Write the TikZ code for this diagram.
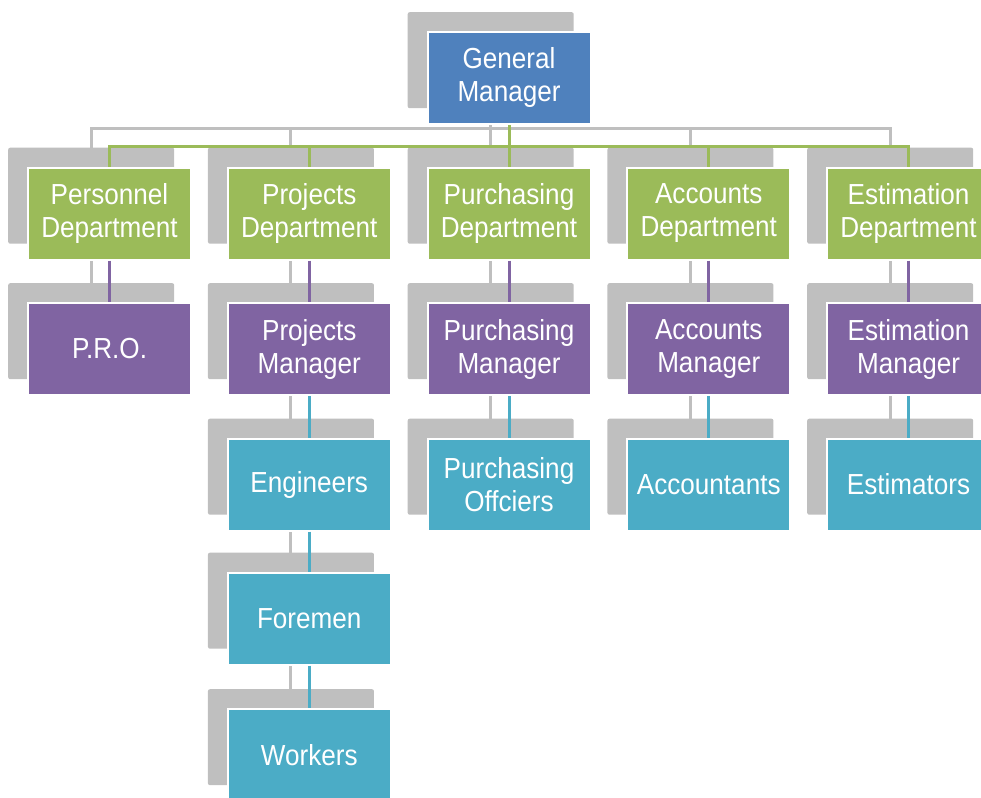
\documentclass[tikz,border=0pt]{standalone}
\usepackage{fontspec}
\setmainfont{Liberation Sans}[FakeStretch=0.9]
\definecolor{gmblue}{HTML}{4F81BD}
\definecolor{dgreen}{HTML}{9BBB59}
\definecolor{mpurple}{HTML}{8064A2}
\definecolor{steal}{HTML}{4BACC6}
\definecolor{sgray}{HTML}{BFBFBF}
\tikzset{
  sbox/.style={fill=sgray, rounded corners=2pt, minimum width=166pt, minimum height=96pt, anchor=north west, inner sep=0pt},
  cbox/.style={draw=white, line width=2pt, minimum width=163pt, minimum height=92pt, anchor=north west, text=white, align=center, font=\fontsize{29}{33}\selectfont, inner sep=0pt},
  gline/.style={draw=sgray, line width=3pt},
  cline/.style={line width=3pt},
}
\begin{document}
\begin{tikzpicture}[x=1pt,y=-1pt]
\useasboundingbox (0,0) rectangle (981,797);
% gray shadow boxes
\node[sbox] (g-gm) at (407.5,12) {};
\node[sbox] (g-pers) at (8,147.5) {};
\node[sbox] (g-proj) at (207.75,147.5) {};
\node[sbox] (g-purc) at (407.5,147.5) {};
\node[sbox] (g-acct) at (607.25,147.5) {};
\node[sbox] (g-esti) at (807,147.5) {};
\node[sbox] (g-pro) at (8,283) {};
\node[sbox] (g-pjm) at (207.75,283) {};
\node[sbox] (g-pum) at (407.5,283) {};
\node[sbox] (g-acm) at (607.25,283) {};
\node[sbox] (g-esm) at (807,283) {};
\node[sbox] (g-eng) at (207.75,418.5) {};
\node[sbox] (g-puo) at (407.5,418.5) {};
\node[sbox] (g-acc) at (607.25,418.5) {};
\node[sbox] (g-est) at (807,418.5) {};
\node[sbox] (g-for) at (207.75,552.5) {};
\node[sbox] (g-wor) at (207.75,689) {};
% gray connectors
\foreach \d in {pers,proj,purc,acct,esti}
  \draw[gline] (g-gm.south) -- ++(0,20) -| (g-\d.north);
\draw[gline] (g-pers.south) -- (g-pro.north);
\draw[gline] (g-proj.south) -- (g-pjm.north);
\draw[gline] (g-purc.south) -- (g-pum.north);
\draw[gline] (g-acct.south) -- (g-acm.north);
\draw[gline] (g-esti.south) -- (g-esm.north);
\draw[gline] (g-pjm.south) -- (g-eng.north);
\draw[gline] (g-pum.south) -- (g-puo.north);
\draw[gline] (g-acm.south) -- (g-acc.north);
\draw[gline] (g-esm.south) -- (g-est.north);
\draw[gline] (g-eng.south) -- (g-for.north);
\draw[gline] (g-for.south) -- (g-wor.north);
% coloured boxes
\node[cbox, fill=gmblue] (gm) at (426.5,31) {General\\Manager};
\node[cbox, fill=dgreen] (pers) at (27,166.5) {Personnel\\Department};
\node[cbox, fill=dgreen] (proj) at (226.75,166.5) {Projects\\Department};
\node[cbox, fill=dgreen] (purc) at (426.5,166.5) {Purchasing\\Department};
\node[cbox, fill=dgreen] (acct) at (626.25,166.5) {Accounts\\Department};
\node[cbox, fill=dgreen] (esti) at (826,166.5) {Estimation\\Department};
\node[cbox, fill=mpurple] (pro) at (27,302) {P.R.O.};
\node[cbox, fill=mpurple] (pjm) at (226.75,302) {Projects\\Manager};
\node[cbox, fill=mpurple] (pum) at (426.5,302) {Purchasing\\Manager};
\node[cbox, fill=mpurple] (acm) at (626.25,302) {Accounts\\Manager};
\node[cbox, fill=mpurple] (esm) at (826,302) {Estimation\\Manager};
\node[cbox, fill=steal] (eng) at (226.75,437.5) {Engineers};
\node[cbox, fill=steal] (puo) at (426.5,437.5) {Purchasing\\Offciers};
\node[cbox, fill=steal] (acc) at (626.25,437.5) {Accountants};
\node[cbox, fill=steal] (est) at (826,437.5) {Estimators};
\node[cbox, fill=steal] (for) at (226.75,571.5) {Foremen};
\node[cbox, fill=steal] (wor) at (226.75,708) {Workers};
% coloured connectors
\foreach \d in {pers,proj,purc,acct,esti}
  \draw[cline, dgreen] (gm.south) -- ++(0,21.5) -| (\d.north);
\draw[cline, mpurple] (pers.south) -- (pro.north);
\draw[cline, mpurple] (proj.south) -- (pjm.north);
\draw[cline, mpurple] (purc.south) -- (pum.north);
\draw[cline, mpurple] (acct.south) -- (acm.north);
\draw[cline, mpurple] (esti.south) -- (esm.north);
\draw[cline, steal] (pjm.south) -- (eng.north);
\draw[cline, steal] (pum.south) -- (puo.north);
\draw[cline, steal] (acm.south) -- (acc.north);
\draw[cline, steal] (esm.south) -- (est.north);
\draw[cline, steal] (eng.south) -- (for.north);
\draw[cline, steal] (for.south) -- (wor.north);
\end{tikzpicture}
\end{document}
